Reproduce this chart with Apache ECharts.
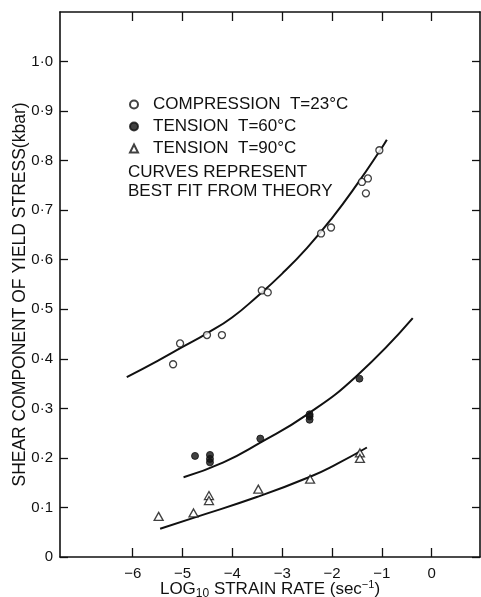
<!DOCTYPE html>
<html>
<head>
<meta charset="utf-8">
<script src="https://cdn.jsdelivr.net/npm/echarts@6/dist/echarts.min.js"></script>
<style>
  html, body { margin: 0; padding: 0; background: #fff; }
  #chart { width: 481px; height: 597px; }
</style>
</head>
<body>
<div id="chart"></div>
<script>
// Measured points: log10 strain rate (x) vs shear component of yield stress in kbar (y)
const compX = [-1.05, -1.40, -1.28, -1.32, -2.22, -2.02, -3.41, -3.29, -5.05, -5.19, -4.51, -4.21];
const compY = [0.821, 0.757, 0.764, 0.734, 0.653, 0.665, 0.538, 0.534, 0.431, 0.389, 0.448, 0.448];

const ten60X = [-4.75, -4.45, -4.45, -4.45, -3.44, -2.45, -2.45, -2.45, -1.45];
const ten60Y = [0.204, 0.206, 0.198, 0.191, 0.239, 0.288, 0.284, 0.277, 0.360];

const ten90X = [-5.48, -4.78, -4.47, -4.47, -3.48, -2.44, -1.44, -1.44];
const ten90Y = [0.082, 0.089, 0.124, 0.114, 0.137, 0.157, 0.210, 0.199];

// Theoretical best-fit curves, sampled along their length
const compFitX = [-6.12, -5.5, -5.0, -4.5, -4.0, -3.5, -3.0, -2.5, -2.0, -1.5, -1.0, -0.9];
const compFitY = [0.363, 0.396, 0.424, 0.452, 0.484, 0.526, 0.572, 0.624, 0.684, 0.752, 0.826, 0.842];

const ten60FitX = [-4.98, -4.18, -3.44, -2.51, -1.50, -0.38];
const ten60FitY = [0.161, 0.191, 0.231, 0.287, 0.366, 0.482];

const ten90FitX = [-5.45, -4.75, -3.51, -2.44, -1.90, -1.30];
const ten90FitY = [0.057, 0.080, 0.121, 0.162, 0.188, 0.221];

// Axis ticks and labels
const xTicks = [-6, -5, -4, -3, -2, -1, 0];
const yTicks = [0, 0.1, 0.2, 0.3, 0.4, 0.5, 0.6, 0.7, 0.8, 0.9, 1.0];

const seriesNames = ['COMPRESSION  T=23°C', 'TENSION  T=60°C', 'TENSION  T=90°C'];
const noteText = 'CURVES REPRESENT\nBEST FIT FROM THEORY';
const xName = 'LOG{sub|10} STRAIN RATE (sec{sup|−1})';
const yName = 'SHEAR COMPONENT OF YIELD STRESS(kbar)';

const FONT = '"Liberation Sans", Arial, sans-serif';
const INK = '#111';

const zip = (xs, ys) => xs.map((x, i) => [x, ys[i]]);

const fmtX = v => (v < 0 ? '−' + Math.abs(v) : String(v));
const fmtY = v => (v === 0 ? '0' : v.toFixed(1).replace('.', '·'));

const frameAxis = {
  axisLine: { show: true, onZero: false, lineStyle: { color: INK, width: 1.6 } },
  splitLine: { show: false }
};

const fitLine = (name, xs, ys) => ({
  name, type: 'line', data: zip(xs, ys),
  smooth: true, showSymbol: false, symbol: 'none', z: 2,
  lineStyle: { color: INK, width: 2 }
});

const chart = echarts.init(document.getElementById('chart'), null, { renderer: 'canvas' });

chart.setOption({
  backgroundColor: '#fff',
  animation: false,
  textStyle: { fontFamily: FONT, color: INK },
  grid: { left: 60, right: 1, top: 12, bottom: 40, containLabel: false, outerBoundsMode: 'none' },
  title: {
    text: noteText,
    left: 128,
    top: 163,
    padding: 0,
    textStyle: { fontFamily: FONT, fontSize: 17, fontWeight: 'normal', color: INK, lineHeight: 19 }
  },
  legend: {
    data: seriesNames,
    orient: 'vertical',
    left: 129,
    top: 96,
    padding: 0,
    itemWidth: 8,
    itemHeight: 8,
    itemGap: 5,
    selectedMode: false,
    formatter: name => '{t|' + name + '}',
    textStyle: {
      fontFamily: FONT, fontSize: 17, color: INK,
      rich: { t: { fontFamily: FONT, fontSize: 17, color: INK, padding: [0, 0, 0, 10] } }
    }
  },
  xAxis: [
    Object.assign({
      type: 'value', position: 'bottom', min: -7.46, max: 0.97,
      name: xName, nameLocation: 'middle', nameGap: 21, nameMoveOverlap: false,
      nameTextStyle: {
        fontFamily: FONT, fontSize: 17, color: INK,
        rich: {
          sub: { fontFamily: FONT, fontSize: 12, color: INK, padding: [10, 0, 0, 0] },
          sup: { fontFamily: FONT, fontSize: 11, color: INK, padding: [0, 0, 9, 0] }
        }
      },
      axisTick: { show: true, inside: true, length: 9, customValues: xTicks, lineStyle: { color: INK, width: 1.3 } },
      axisLabel: { show: true, customValues: xTicks, formatter: fmtX, margin: 9, fontSize: 15, fontFamily: FONT, color: INK }
    }, frameAxis),
    Object.assign({
      type: 'value', position: 'top', min: -7.46, max: 0.97,
      axisTick: { show: true, inside: true, length: 9, customValues: xTicks, lineStyle: { color: INK, width: 1.3 } },
      axisLabel: { show: false }
    }, frameAxis)
  ],
  yAxis: [
    Object.assign({
      type: 'value', position: 'left', min: 0, max: 1.1,
      name: yName, nameLocation: 'middle', nameGap: 31, nameRotate: 90, nameMoveOverlap: false,
      nameTextStyle: { fontFamily: FONT, fontSize: 17.5, color: INK, padding: [0, 20, 0, 0] },
      axisTick: { show: true, inside: true, length: 8, customValues: yTicks, lineStyle: { color: INK, width: 1.3 } },
      axisLabel: { show: true, customValues: yTicks, formatter: fmtY, margin: 7, fontSize: 15, fontFamily: FONT, color: INK }
    }, frameAxis),
    Object.assign({
      type: 'value', position: 'right', min: 0, max: 1.1,
      axisTick: { show: true, inside: true, length: 8, customValues: yTicks, lineStyle: { color: INK, width: 1.3 } },
      axisLabel: { show: false }
    }, frameAxis)
  ],
  series: [
    fitLine('compression fit', compFitX, compFitY),
    fitLine('tension 60 fit', ten60FitX, ten60FitY),
    fitLine('tension 90 fit', ten90FitX, ten90FitY),
    {
      name: seriesNames[0], type: 'scatter', data: zip(compX, compY),
      symbol: 'circle', symbolSize: 7, z: 3,
      itemStyle: { color: '#fff', borderColor: INK, borderWidth: 1.3 }
    },
    {
      name: seriesNames[1], type: 'scatter', data: zip(ten60X, ten60Y),
      symbol: 'circle', symbolSize: 7, z: 3,
      itemStyle: { color: INK, borderColor: INK, borderWidth: 1 }
    },
    {
      name: seriesNames[2], type: 'scatter', data: zip(ten90X, ten90Y),
      symbol: 'triangle', symbolSize: [9, 8], z: 3,
      itemStyle: { color: '#fff', borderColor: INK, borderWidth: 1.3 }
    }
  ]
});
</script>
</body>
</html>
